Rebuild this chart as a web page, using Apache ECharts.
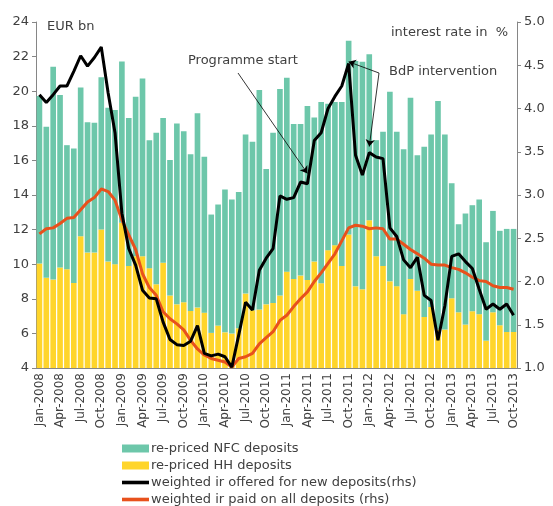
<!DOCTYPE html>
<html>
<head>
<meta charset="utf-8">
<script src="https://cdn.jsdelivr.net/npm/echarts@6/dist/echarts.min.js"></script>
<style>
  html, body { margin: 0; padding: 0; background: #fff; }
  #main { width: 553px; height: 506px; }
</style>
</head>
<body>
<div id="main"></div>
<script>
// month labels, Jan-2008 .. Oct-2013
var monthNames = ['Jan','Feb','Mar','Apr','May','Jun','Jul','Aug','Sep','Oct','Nov','Dec'];
var years = [2008, 2009, 2010, 2011, 2012, 2013];
var months = [];
years.forEach(function (y) {
    monthNames.forEach(function (m, k) {
        if (y === 2013 && k > 9) return;
        months.push(m + '-' + y);
    });
});

// re-priced household deposits, EUR bn
var hhDeposits = [
    10.04, 9.21, 9.11, 9.81, 9.71, 8.92, 11.62, 10.67, 10.67, 12.00, 10.15, 10.00,
    12.39, 9.90, 10.46, 10.46, 9.77, 8.84, 10.08, 8.19, 7.68, 7.80, 7.30, 7.49,
    7.20, 6.03, 6.45, 6.06, 5.99, 6.30, 8.30, 7.34, 7.38, 7.68, 7.76, 8.19,
    9.57, 9.15, 9.34, 9.09, 10.15, 8.90, 10.81, 11.10, 9.90, 11.71, 8.72, 8.55,
    12.54, 10.46, 9.90, 9.01, 8.73, 7.11, 9.15, 8.46, 6.95, 7.53, 6.22, 6.22,
    8.03, 7.22, 6.51, 7.28, 7.11, 5.58, 7.22, 6.47, 6.08, 6.08
];
// re-priced NFC deposits, EUR bn (stacked on top of HH)
var nfcDeposits = [
    9.68, 8.73, 12.31, 9.97, 7.17, 7.77, 8.60, 7.54, 7.50, 8.80, 8.89, 8.91,
    9.33, 8.55, 9.22, 10.28, 7.40, 8.76, 8.37, 7.83, 10.46, 9.89, 9.06, 11.23,
    9.01, 6.84, 7.00, 8.26, 7.75, 7.88, 9.20, 9.74, 12.69, 7.83, 9.84, 11.93,
    11.21, 8.95, 8.76, 10.05, 8.33, 10.47, 8.46, 8.27, 9.47, 11.21, 13.02, 13.15,
    9.59, 6.71, 7.76, 10.96, 8.93, 9.54, 10.47, 7.84, 9.84, 9.97, 13.21, 11.28,
    6.65, 5.09, 6.42, 6.13, 6.63, 5.69, 5.86, 5.46, 5.96, 5.96
];
// weighted interest rate offered for new deposits, %
var rateNew = [
    4.16, 4.07, 4.16, 4.26, 4.26, 4.43, 4.61, 4.49, 4.59, 4.71, 4.18, 3.72,
    2.79, 2.38, 2.19, 1.90, 1.81, 1.80, 1.53, 1.33, 1.27, 1.26, 1.31, 1.49,
    1.17, 1.14, 1.16, 1.13, 1.01, 1.38, 1.76, 1.67, 2.13, 2.27, 2.38, 2.99,
    2.95, 2.97, 3.15, 3.13, 3.63, 3.72, 4.00, 4.14, 4.26, 4.52, 3.46, 3.23,
    3.49, 3.44, 3.42, 2.62, 2.52, 2.25, 2.16, 2.28, 1.84, 1.78, 1.32, 1.72,
    2.29, 2.32, 2.23, 2.15, 1.91, 1.68, 1.74, 1.68, 1.74, 1.61
];
// weighted interest rate paid on all deposits, %
var rateAll = [
    2.55, 2.61, 2.62, 2.67, 2.73, 2.74, 2.83, 2.92, 2.97, 3.07, 3.04, 2.94,
    2.71, 2.54, 2.37, 2.09, 1.93, 1.84, 1.65, 1.57, 1.51, 1.44, 1.32, 1.22,
    1.15, 1.11, 1.09, 1.07, 1.01, 1.11, 1.13, 1.17, 1.28, 1.35, 1.42, 1.55,
    1.61, 1.71, 1.80, 1.88, 2.00, 2.10, 2.21, 2.32, 2.47, 2.62, 2.65, 2.64,
    2.61, 2.62, 2.61, 2.49, 2.49, 2.43, 2.37, 2.32, 2.27, 2.20, 2.19, 2.19,
    2.16, 2.14, 2.10, 2.05, 2.01, 2.00, 1.95, 1.93, 1.93, 1.91
];

var FONT = 'DejaVu Sans';
var TXT = '#404040';
var LINE_ICON = 'path://M0,0 L30,0 L30,4 L0,4 Z';

var myChart = echarts.init(document.getElementById('main'));
var option = {
    animation: false,
    textStyle: { fontFamily: FONT, color: TXT },
    grid: { left: 36, right: 36, top: 22, bottom: 138 },
    legend: {
        orient: 'vertical',
        left: 122,
        top: 442,
        height: 120,
        itemWidth: 27,
        itemHeight: 8,
        itemGap: 4,
        padding: 0,
        textStyle: { fontFamily: FONT, fontSize: 13, color: TXT, padding: [0, 0, 0, -3] },
        data: [
            { name: 're-priced NFC deposits', icon: 'rect' },
            { name: 're-priced HH deposits', icon: 'rect' },
            { name: 'weighted ir offered for new deposits(rhs)', icon: LINE_ICON },
            { name: 'weighted ir paid on all deposits (rhs)', icon: LINE_ICON }
        ]
    },
    xAxis: {
        type: 'category',
        data: months,
        axisLine: { lineStyle: { color: '#868686' } },
        axisTick: { interval: 2, length: 4, lineStyle: { color: '#868686' } },
        axisLabel: { interval: 2, rotate: 90, fontSize: 12, color: TXT, margin: 5 }
    },
    yAxis: [
        {
            type: 'value', min: 4, max: 24, interval: 2,
            splitLine: { show: false },
            axisLine: { show: true, lineStyle: { color: '#868686' } },
            axisTick: { show: true, length: 4, lineStyle: { color: '#868686' } },
            axisLabel: { fontSize: 13, color: TXT, margin: 7 }
        },
        {
            type: 'value', min: 1, max: 5, interval: 0.5,
            splitLine: { show: false },
            axisLine: { show: true, lineStyle: { color: '#868686' } },
            axisTick: { show: true, length: 4, lineStyle: { color: '#868686' } },
            axisLabel: { fontSize: 13, color: TXT, margin: 7,
                formatter: function (v) { return v.toFixed(1); } }
        }
    ],
    series: [
        {
            name: 're-priced HH deposits', type: 'bar', stack: 'dep',
            data: hhDeposits, barCategoryGap: '18%',
            itemStyle: { color: '#FFD52B' }
        },
        {
            name: 're-priced NFC deposits', type: 'bar', stack: 'dep',
            data: nfcDeposits, barCategoryGap: '18%',
            itemStyle: { color: '#6DC7AA' }
        },
        {
            name: 'weighted ir paid on all deposits (rhs)', type: 'line', yAxisIndex: 1,
            data: rateAll, symbol: 'none',
            lineStyle: { color: '#E8511C', width: 3 },
            itemStyle: { color: '#E8511C' }
        },
        {
            name: 'weighted ir offered for new deposits(rhs)', type: 'line', yAxisIndex: 1,
            data: rateNew, symbol: 'none',
            lineStyle: { color: '#000', width: 3 },
            itemStyle: { color: '#000' },
            markLine: {
                silent: true,
                symbol: ['none', 'arrow'],
                symbolSize: 7,
                label: { show: false },
                lineStyle: { color: '#000', width: 0.8, type: 'solid' },
                data: [
                    [{ x: 238, y: 73 }, { coord: ['Apr-2011', 3.25] }],
                    [{ x: 379, y: 73 }, { coord: ['Oct-2011', 4.54] }],
                    [{ x: 379, y: 73 }, { coord: ['Jan-2012', 3.56] }]
                ]
            }
        }
    ],
    graphic: [
        { type: 'text', left: 47, top: 20, style: { text: 'EUR bn', font: '13px ' + FONT, fill: TXT } },
        { type: 'text', left: 391, top: 26, style: { text: 'interest rate in  %', font: '13px ' + FONT, fill: TXT } },
        { type: 'text', left: 188, top: 54, style: { text: 'Programme start', font: '13px ' + FONT, fill: TXT } },
        { type: 'text', left: 389, top: 65, style: { text: 'BdP intervention', font: '13px ' + FONT, fill: TXT } }
    ]
};
myChart.setOption(option);
</script>
</body>
</html>
